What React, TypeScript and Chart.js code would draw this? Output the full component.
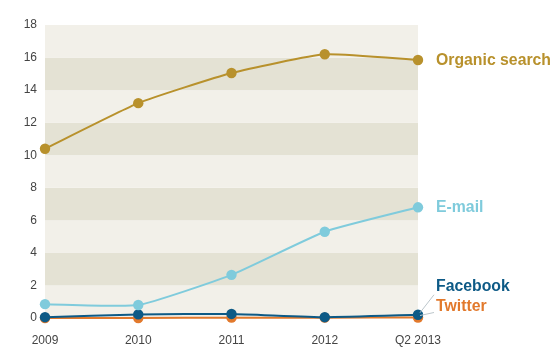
import React, { useEffect, useRef } from "react";
import { Chart, registerables } from "chart.js";

Chart.register(...registerables);

const categories = ["2009", "2010", "2011", "2012", "Q2 2013"];
const organicSearch = [10.4, 13.2, 15.05, 16.2, 15.85];
const email = [0.85, 0.8, 2.65, 5.3, 6.8];
const facebook = [0.05, 0.22, 0.25, 0.05, 0.2];
const twitter = [0.0, 0.0, 0.02, 0.02, 0.03];
const yTicks = [0, 2, 4, 6, 8, 10, 12, 14, 16, 18];

const COLORS = {
  organic: "#b8912c",
  email: "#7fcbdc",
  facebook: "#0d5a86",
  twitter: "#e2792c",
};

const FONT = "'Liberation Sans', Arial, Helvetica, sans-serif";

const bandsPlugin = {
  id: "bands",
  beforeDatasetsDraw(chart: any) {
    const { ctx, chartArea, scales } = chart;
    const y = scales.y;
    ctx.save();
    for (let i = 0; i < yTicks.length - 1; i++) {
      const top = y.getPixelForValue(yTicks[i + 1]);
      const bottom = y.getPixelForValue(yTicks[i]);
      ctx.fillStyle = i % 2 === 1 ? "#e4e2d4" : "#f2f0e9";
      ctx.fillRect(chartArea.left, top, chartArea.right - chartArea.left, bottom - top);
    }
    ctx.restore();
  },
};

const labelsPlugin = {
  id: "endLabels",
  afterDatasetsDraw(chart: any) {
    const { ctx, chartArea } = chart;
    const x0 = chartArea.right + 18;
    const last = categories.length - 1;
    const pt = (di: number) => chart.getDatasetMeta(di).data[last];
    const items = [
      { di: 0, text: "Organic search", color: COLORS.organic, dy: 1, line: 0 },
      { di: 1, text: "E-mail", color: COLORS.email, dy: 0, line: 0 },
      { di: 2, text: "Facebook", color: COLORS.facebook, dy: -28, line: 8 },
      { di: 3, text: "Twitter", color: COLORS.twitter, dy: -11, line: 6 },
    ];
    ctx.save();
    ctx.font = `bold 15.8px ${FONT}`;
    ctx.textBaseline = "middle";
    ctx.textAlign = "left";
    for (const it of items) {
      const p = pt(it.di);
      const ly = p.y + it.dy;
      if (it.line) {
        ctx.strokeStyle = "#bcc6cb";
        ctx.lineWidth = 1;
        ctx.beginPath();
        ctx.moveTo(p.x + 2, p.y - 2);
        ctx.lineTo(x0 - 2, ly + it.line);
        ctx.stroke();
      }
      ctx.fillStyle = it.color;
      ctx.fillText(it.text, x0, ly);
    }
    ctx.restore();
  },
};

function ds(label: string, data: number[], color: string) {
  return {
    label,
    data,
    borderColor: color,
    backgroundColor: color,
    pointBackgroundColor: color,
    pointBorderColor: color,
    pointRadius: 5.2,
    pointBorderWidth: 0,
    borderWidth: 2,
    tension: 0.15,
    clip: false as any,
  };
}

export default function App() {
  const ref = useRef<HTMLCanvasElement | null>(null);
  useEffect(() => {
    document.body.style.margin = "0";
    const chart = new Chart(ref.current as HTMLCanvasElement, {
      type: "line",
      data: {
        labels: categories,
        datasets: [
          ds("Organic search", organicSearch, COLORS.organic),
          ds("E-mail", email, COLORS.email),
          ds("Facebook", facebook, COLORS.facebook),
          ds("Twitter", twitter, COLORS.twitter),
        ],
      },
      options: {
        responsive: false,
        animation: false,
        devicePixelRatio: 1,
        layout: { padding: { top: 25, right: 141, left: 0, bottom: 0 } },
        plugins: { legend: { display: false }, tooltip: { enabled: false } },
        scales: {
          x: {
            offset: false,
            grid: { display: false, drawTicks: false },
            border: { display: false },
            ticks: { color: "#444", font: { family: FONT, size: 12 }, padding: 15, maxRotation: 0 },
            afterFit: (s: any) => { s.height = 37; },
          },
          y: {
            min: 0,
            max: 18,
            grid: { display: false, drawTicks: false },
            border: { display: false },
            afterBuildTicks: (s: any) => { s.ticks = yTicks.map((v) => ({ value: v })); },
            ticks: { color: "#444", font: { family: FONT, size: 12 }, padding: 8 },
            afterFit: (s: any) => { s.width = 45; },
          },
        },
      },
      plugins: [bandsPlugin, labelsPlugin],
    });
    return () => chart.destroy();
  }, []);
  return <canvas ref={ref} width={559} height={355} style={{ display: "block" }} />;
}
